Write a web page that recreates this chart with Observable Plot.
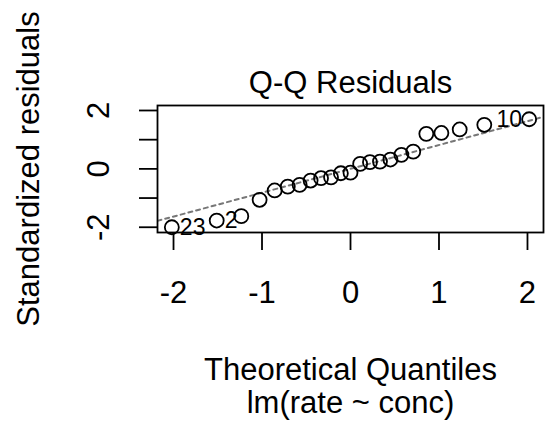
<!DOCTYPE html>
<html>
<head>
<meta charset="utf-8">
<script src="https://cdn.jsdelivr.net/npm/d3@7"></script>
<script src="https://cdn.jsdelivr.net/npm/@observablehq/plot@0.6"></script>
<style>
  html, body { margin: 0; padding: 0; background: #fff; }
  svg { display: block; }
</style>
</head>
<body>
<div id="chart"></div>
<script>
// Theoretical normal quantiles (n = 23)
const theoQuantiles = [-2.019, -1.512, -1.234, -1.027, -0.857, -0.709, -0.575, -0.451, -0.333, -0.220, -0.109, 0.000,
  0.109, 0.220, 0.333, 0.451, 0.575, 0.709, 0.857, 1.027, 1.234, 1.512, 2.019];
// Standardized residuals (sorted)
const stdResiduals = [-2.00, -1.77, -1.62, -1.06, -0.74, -0.61, -0.55, -0.40, -0.32, -0.29, -0.15, -0.13,
  0.17, 0.23, 0.25, 0.32, 0.48, 0.59, 1.20, 1.23, 1.35, 1.51, 1.70];
// Labelled observations
const labelIndex = [0, 1, 22];
const labelText = ["23", "2", "10"];
// Q-Q reference line
const qqIntercept = 0.0;
const qqSlope = 0.817;
// Axes
const xTicks = [-2, -1, 0, 1, 2];
const yTicks = [-2, -1, 0, 1, 2];
const yTickLabels = [-2, 0, 2];
const xDomain = [-2.181, 2.181];
const yDomain = [-2.18, 2.171];
const titleText = "Q-Q Residuals";
const xLabel = "Theoretical Quantiles";
const subLabel = "lm(rate ~ conc)";
const yLabel = "Standardized residuals";

const points = theoQuantiles.map((q, i) => ({x: q, y: stdResiduals[i]}));
const labels = labelIndex.map((idx, k) => ({x: theoQuantiles[idx], y: stdResiduals[idx], text: labelText[k], left: theoQuantiles[idx] < 0}));
const qqLine = xDomain.map(x => ({x, y: qqIntercept + qqSlope * x}));

const FONT = "'Liberation Sans', Arial, Helvetica, sans-serif";
const FS = 31;
const LW = 1.8;

const chart = Plot.plot({
  width: 547,
  height: 427,
  marginLeft: 157,
  marginRight: 4,
  marginTop: 105,
  marginBottom: 195,
  style: {fontFamily: FONT, background: "#fff", color: "#000"},
  x: {domain: xDomain},
  y: {domain: yDomain},
  marks: [
    Plot.line(qqLine, {x: "x", y: "y", stroke: "#777", strokeWidth: 2, strokeDasharray: "4,4", clip: true}),
    Plot.dot(points, {x: "x", y: "y", r: 7, stroke: "#000", strokeWidth: LW, fill: "none"}),
    Plot.text(labels.filter(d => d.left), {x: "x", y: "y", text: "text", textAnchor: "start", dx: 8, fontSize: 23, fill: "#000"}),
    Plot.text(labels.filter(d => !d.left), {x: "x", y: "y", text: "text", textAnchor: "end", dx: -7, fontSize: 23, fill: "#000"}),
    Plot.frame({stroke: "#000", strokeWidth: LW}),
    Plot.axisX({ticks: xTicks, tickSize: 18, tickPadding: 30, fontSize: FS, strokeWidth: LW, label: null, tickFormat: d => String(d).replace("−", "-")}),
    Plot.axisY({ticks: yTicks, tickSize: 18, strokeWidth: LW, label: null, tickFormat: () => ""}),
    Plot.text(yTickLabels, {y: d => d, text: d => String(d), frameAnchor: "left", dx: -58, rotate: -90, fontSize: FS, lineAnchor: "middle", textAnchor: "middle", fill: "#000"}),
    Plot.text([titleText], {text: d => d, frameAnchor: "top", dy: -22, fontSize: FS, lineAnchor: "middle", textAnchor: "middle", fill: "#000"}),
    Plot.text([xLabel], {text: d => d, frameAnchor: "bottom", dy: 138, fontSize: FS, lineAnchor: "middle", textAnchor: "middle", fill: "#000"}),
    Plot.text([subLabel], {text: d => d, frameAnchor: "bottom", dy: 171, fontSize: FS, lineAnchor: "middle", textAnchor: "middle", fill: "#000"}),
    Plot.text([yLabel], {text: d => d, frameAnchor: "left", dx: -128, rotate: -90, fontSize: FS, lineAnchor: "middle", textAnchor: "middle", fill: "#000"})
  ]
});
document.getElementById("chart").appendChild(chart);
</script>
</body>
</html>
